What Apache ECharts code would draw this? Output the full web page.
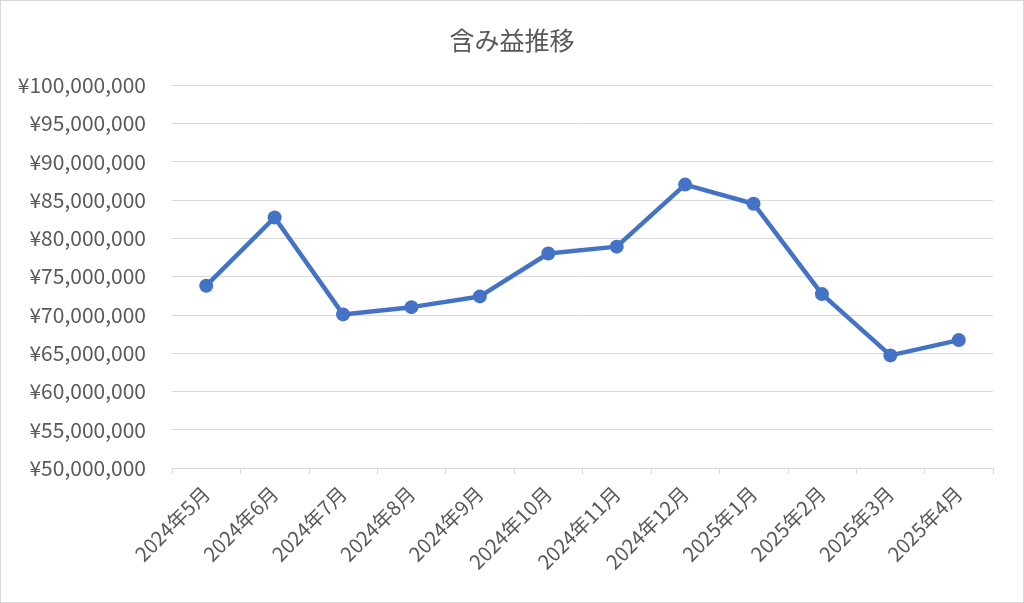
<!DOCTYPE html>
<html>
<head>
<meta charset="utf-8">
<script src="https://cdn.jsdelivr.net/npm/echarts@6/dist/echarts.min.js"></script>
<style>
html,body{margin:0;padding:0;background:#fff;}
#c{width:1022px;height:601px;border:1px solid #d9d9d9;}
</style>
</head>
<body>
<div id="c"></div>
<script>
const titleText = '含み益推移';
const categories = ['2024年5月','2024年6月','2024年7月','2024年8月','2024年9月','2024年10月','2024年11月','2024年12月','2025年1月','2025年2月','2025年3月','2025年4月'];
const values = [73800000, 82700000, 70050000, 71000000, 72400000, 78000000, 78900000, 87000000, 84500000, 72700000, 64700000, 66700000];
const yMin = 50000000, yMax = 100000000, yStep = 5000000;

const font = '"Noto Sans CJK JP", "Noto Sans", sans-serif';
const chart = echarts.init(document.getElementById('c'), null, {renderer:'canvas'});
chart.setOption({
  animation: false,
  backgroundColor: '#fff',
  title: {
    text: titleText, left: 'center', top: 22,
    textStyle: {fontFamily: font, fontSize: 25, fontWeight: 'normal', color: '#595959'}
  },
  grid: {left: 171, right: 30, top: 84, bottom: 134},
  xAxis: {
    type: 'category', data: categories, boundaryGap: true,
    axisLine: {lineStyle: {color: '#d9d9d9', width: 1}},
    axisTick: {show: true, length: 6, lineStyle: {color: '#d9d9d9'}},
    axisLabel: {rotate: 45, fontFamily: font, fontSize: 20, color: '#595959', margin: 22, interval: 0}
  },
  yAxis: {
    type: 'value', min: yMin, max: yMax, interval: yStep,
    axisLine: {show: false}, axisTick: {show: false},
    splitLine: {lineStyle: {color: '#d9d9d9', width: 1}},
    axisLabel: {
      fontFamily: font, fontSize: 21, color: '#595959', margin: 26,
      formatter: v => '¥' + v.toLocaleString('en-US')
    }
  },
  series: [{
    type: 'line', data: values,
    symbol: 'circle', symbolSize: 14,
    lineStyle: {color: '#4472C4', width: 4.5},
    itemStyle: {color: '#4472C4'}
  }]
});
</script>
</body>
</html>
